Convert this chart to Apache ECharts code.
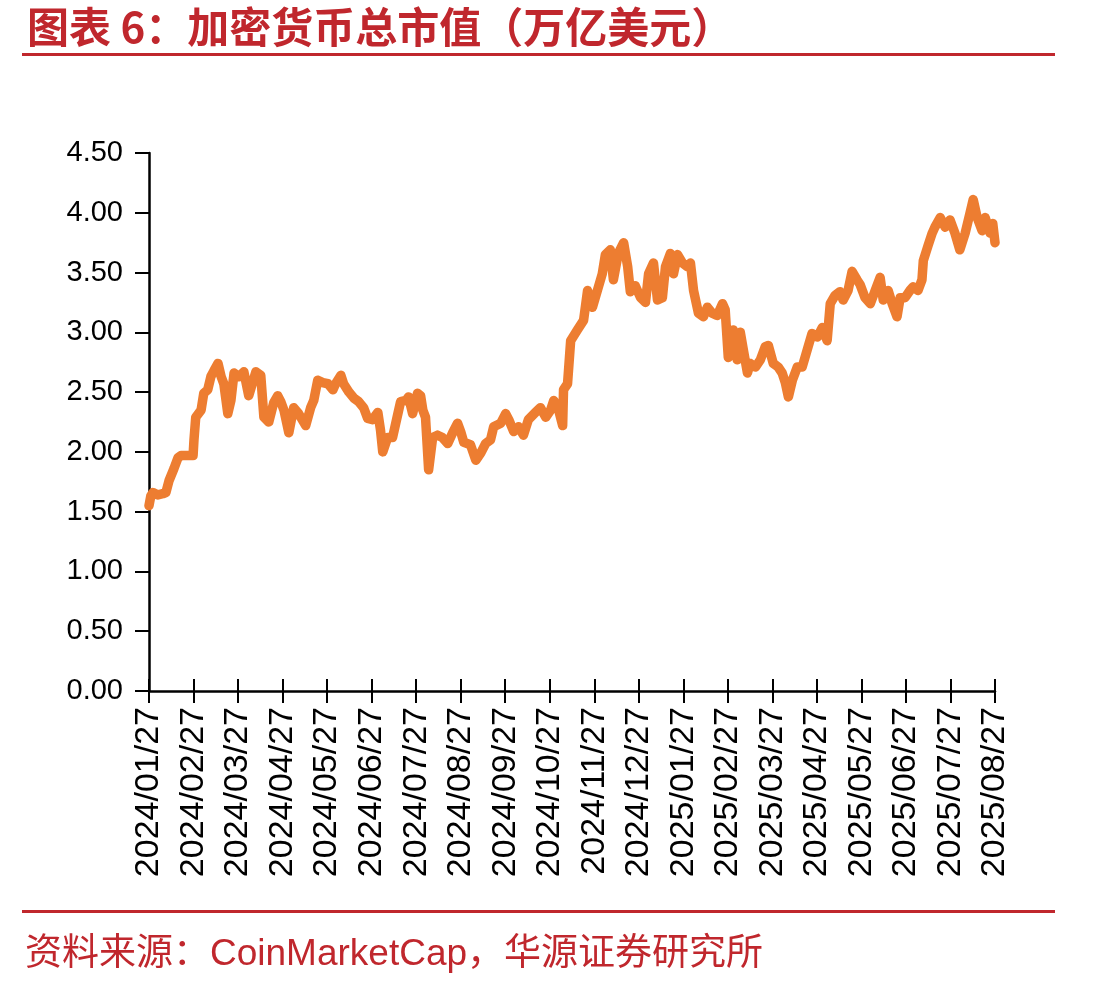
<!DOCTYPE html>
<html>
<head>
<meta charset="utf-8">
<script src="https://cdn.jsdelivr.net/npm/echarts@6/dist/echarts.min.js"></script>
<style>html,body{margin:0;padding:0;background:#fff;}#c{width:1113px;height:986px;}</style>
</head>
<body>
<div id="c"></div>
<script>
// Tick labels (one per month, equally spaced on the axis)
const tickLabels = ['2024/01/27','2024/02/27','2024/03/27','2024/04/27','2024/05/27','2024/06/27','2024/07/27','2024/08/27','2024/09/27','2024/10/27','2024/11/27','2024/12/27','2025/01/27','2025/02/27','2025/03/27','2025/04/27','2025/05/27','2025/06/27','2025/07/27','2025/08/27'];
// Position of each observation, in months since 2024/01/27
const monthPos = [0.00,0.04,0.09,0.20,0.31,0.38,0.45,0.56,0.65,0.72,0.85,0.99,1.01,1.05,1.17,1.23,1.32,1.39,1.46,1.55,1.62,1.68,1.77,1.84,1.91,2.02,2.13,2.24,2.40,2.51,2.58,2.69,2.80,2.89,2.96,3.03,3.14,3.25,3.36,3.52,3.63,3.70,3.79,3.90,4.02,4.13,4.19,4.31,4.37,4.49,4.60,4.71,4.82,4.91,5.02,5.14,5.20,5.25,5.36,5.47,5.59,5.65,5.77,5.83,5.92,6.03,6.10,6.15,6.21,6.28,6.37,6.48,6.59,6.71,6.82,6.93,7.00,7.07,7.22,7.34,7.45,7.56,7.67,7.74,7.90,8.01,8.08,8.19,8.30,8.41,8.52,8.68,8.79,8.91,9.02,9.09,9.20,9.29,9.31,9.40,9.47,9.62,9.76,9.85,9.96,10.07,10.18,10.25,10.36,10.43,10.54,10.66,10.75,10.81,10.92,11.04,11.15,11.22,11.33,11.42,11.53,11.60,11.71,11.78,11.87,11.98,12.09,12.16,12.23,12.34,12.45,12.54,12.65,12.76,12.88,12.94,13.01,13.12,13.21,13.28,13.35,13.44,13.50,13.62,13.73,13.84,13.91,14.02,14.13,14.22,14.29,14.36,14.45,14.56,14.67,14.78,14.89,15.01,15.12,15.23,15.30,15.41,15.52,15.59,15.70,15.79,15.90,15.97,16.08,16.20,16.31,16.42,16.49,16.60,16.69,16.80,16.87,16.98,17.09,17.16,17.27,17.36,17.39,17.50,17.59,17.65,17.77,17.88,17.99,18.10,18.21,18.33,18.44,18.51,18.60,18.71,18.78,18.89,18.95,19.00];
// Total crypto market cap (trillion USD)
const marketCap = [1.55,1.63,1.66,1.64,1.65,1.66,1.76,1.86,1.95,1.97,1.97,1.97,2.10,2.29,2.35,2.49,2.52,2.63,2.68,2.74,2.63,2.57,2.32,2.43,2.66,2.63,2.67,2.47,2.67,2.64,2.29,2.25,2.41,2.47,2.42,2.35,2.16,2.37,2.32,2.22,2.37,2.43,2.60,2.58,2.57,2.52,2.57,2.64,2.57,2.50,2.45,2.42,2.37,2.28,2.27,2.33,2.18,2.00,2.12,2.12,2.32,2.42,2.43,2.46,2.32,2.49,2.47,2.35,2.29,1.85,2.12,2.14,2.12,2.07,2.16,2.24,2.17,2.08,2.06,1.93,1.99,2.07,2.10,2.21,2.24,2.32,2.27,2.17,2.21,2.14,2.27,2.33,2.37,2.29,2.35,2.43,2.35,2.22,2.52,2.57,2.93,3.02,3.10,3.35,3.21,3.35,3.49,3.65,3.69,3.44,3.66,3.75,3.55,3.34,3.39,3.29,3.25,3.49,3.58,3.27,3.29,3.55,3.66,3.49,3.65,3.58,3.55,3.58,3.35,3.16,3.13,3.21,3.16,3.14,3.24,3.19,2.79,3.02,2.77,3.00,2.85,2.66,2.74,2.71,2.77,2.88,2.89,2.74,2.71,2.66,2.58,2.46,2.60,2.71,2.71,2.85,2.99,2.96,3.04,2.93,3.24,3.31,3.34,3.27,3.35,3.51,3.44,3.40,3.29,3.24,3.35,3.46,3.27,3.35,3.24,3.13,3.29,3.29,3.35,3.38,3.35,3.44,3.60,3.73,3.83,3.88,3.96,3.88,3.94,3.83,3.69,3.83,4.00,4.11,3.96,3.85,3.96,3.83,3.91,3.75];

const titleText = '图表 6：加密货币总市值（万亿美元）';
const sourceText = '资料来源：CoinMarketCap，华源证券研究所';
const RED = '#C0272D';

const seriesData = monthPos.map((m, i) => [m, marketCap[i]]);

const chart = echarts.init(document.getElementById('c'), null, {renderer: 'canvas'});
const xCommon = {
  type: 'value', min: 0, max: tickLabels.length - 1, interval: 1,
  splitLine: {show: false}
};
chart.setOption({
  animation: false,
  backgroundColor: '#fff',
  title: {
    text: titleText, left: 22, top: 1,
    textStyle: {color: RED, fontSize: 42, fontWeight: 'bold', fontFamily: 'Noto Sans CJK SC'}
  },
  graphic: [
    {type: 'rect', shape: {x: 22, y: 53, width: 1033, height: 3}, style: {fill: RED}},
    {type: 'rect', shape: {x: 22, y: 910, width: 1033, height: 3}, style: {fill: RED}},
    {type: 'text', left: 25, top: 936, style: {text: sourceText, fill: RED, fontSize: 37, fontFamily: 'Liberation Sans, Noto Sans CJK SC'}}
  ],
  grid: {left: 149, right: 118, top: 153, bottom: 295, containLabel: false},
  xAxis: [
    Object.assign({}, xCommon, {
      axisLine: {show: true, lineStyle: {color: '#000', width: 2.5}},
      axisTick: {show: true, length: 12, lineStyle: {color: '#000', width: 2}},
      axisLabel: {
        show: true, rotate: 90, margin: 16, color: '#000', fontSize: 34,
        fontFamily: 'Liberation Sans, Arial',
        formatter: v => tickLabels[Math.round(v)] || ''
      }
    }),
    Object.assign({}, xCommon, {
      position: 'bottom',
      axisLine: {show: false},
      axisTick: {show: true, inside: true, length: 12, lineStyle: {color: '#000', width: 2}},
      axisLabel: {show: false}
    })
  ],
  yAxis: {
    type: 'value', min: 0, max: 4.5, interval: 0.5,
    axisLine: {show: true, lineStyle: {color: '#000', width: 2.5}},
    axisTick: {show: true, length: 14, lineStyle: {color: '#000', width: 2}},
    axisLabel: {
      color: '#000', fontSize: 29, margin: 26, fontFamily: 'Liberation Sans, Arial',
      formatter: v => v.toFixed(2)
    },
    splitLine: {show: false}
  },
  series: [{
    type: 'line', xAxisIndex: 0, data: seriesData, showSymbol: false, symbol: 'none',
    lineStyle: {color: '#ED7D31', width: 9.5, join: 'round', cap: 'round'},
    z: 1
  }]
});
</script>
</body>
</html>
